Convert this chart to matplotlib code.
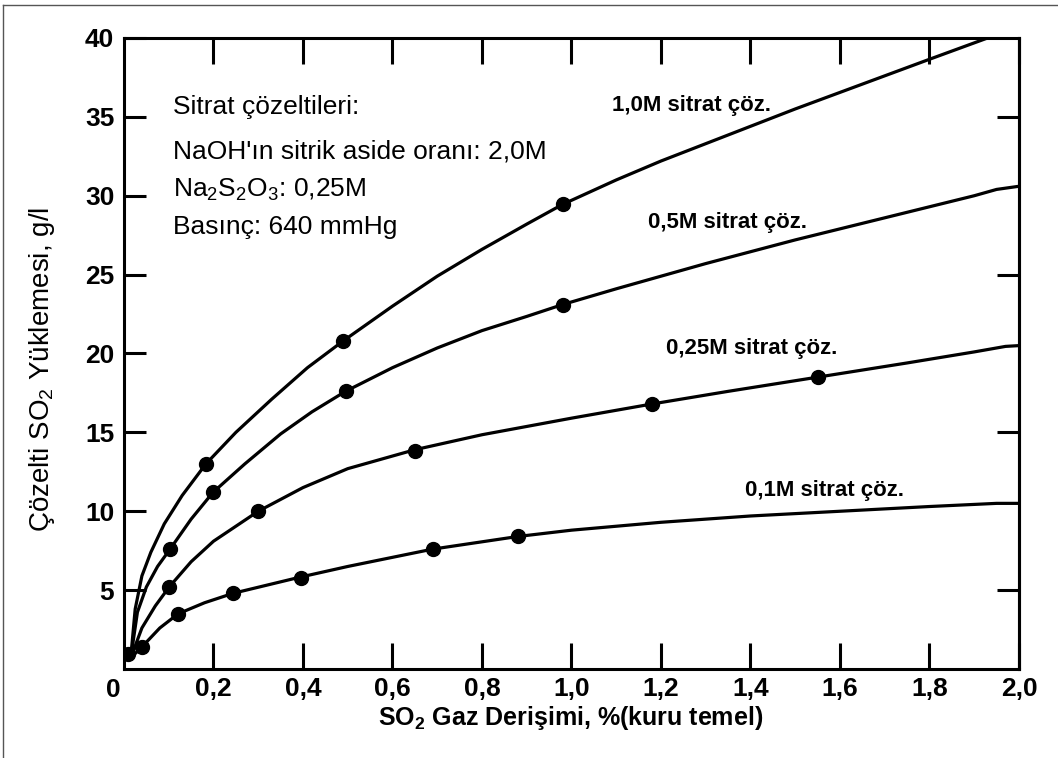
import matplotlib
matplotlib.use("Agg")
import matplotlib.pyplot as plt
from matplotlib.lines import Line2D

plt.rcParams['font.family'] = ['Liberation Sans', 'DejaVu Sans']
plt.rcParams['mathtext.default'] = 'regular'

# smooth curves
x_10 = [0.015, 0.025, 0.04, 0.06, 0.09, 0.13, 0.183, 0.25, 0.33, 0.41, 0.49, 0.6, 0.7, 0.8, 0.9, 0.98,
        1.1, 1.2, 1.3, 1.4, 1.5, 1.6, 1.7, 1.8, 1.93]
y_10 = [0.7, 3.8, 5.9, 7.4, 9.2, 11.0, 13.0, 15.0, 17.1, 19.1, 20.8, 23.0, 24.9, 26.6, 28.2, 29.45,
        31.0, 32.2, 33.3, 34.4, 35.5, 36.55, 37.6, 38.65, 40.0]

x_05 = [0.015, 0.03, 0.05, 0.075, 0.103, 0.15, 0.199, 0.27, 0.35, 0.42, 0.495, 0.6, 0.7, 0.8, 0.9, 0.98,
        1.1, 1.2, 1.3, 1.4, 1.5, 1.6, 1.7, 1.8, 1.9, 1.95, 2.0]
y_05 = [0.7, 3.6, 5.2, 6.5, 7.6, 9.5, 11.2, 13.0, 14.9, 16.3, 17.6, 19.1, 20.35, 21.45, 22.35, 23.1,
        24.1, 24.9, 25.7, 26.45, 27.2, 27.9, 28.6, 29.3, 30.0, 30.4, 30.6]

x_025 = [0.015, 0.04, 0.07, 0.101, 0.15, 0.2, 0.3, 0.4, 0.5, 0.65, 0.8, 1.0, 1.18, 1.35, 1.55, 1.75, 1.9, 1.97, 2.0]
y_025 = [0.7, 2.6, 4.0, 5.2, 6.8, 8.1, 10.0, 11.5, 12.7, 13.9, 14.85, 15.9, 16.8, 17.6, 18.5, 19.4, 20.1, 20.45, 20.5]

x_01 = [0.015, 0.04, 0.08, 0.121, 0.18, 0.244, 0.39, 0.5, 0.69, 0.88, 1.0, 1.2, 1.4, 1.6, 1.8, 1.95, 2.0]
y_01 = [0.7, 1.4, 2.6, 3.5, 4.2, 4.8, 5.8, 6.5, 7.6, 8.4, 8.8, 9.3, 9.7, 10.0, 10.3, 10.5, 10.5]

# measured points
px_10 = [0.01, 0.183, 0.49, 0.98]
py_10 = [0.95, 13.0, 20.8, 29.5]
px_05 = [0.103, 0.199, 0.495, 0.98]
py_05 = [7.6, 11.2, 17.6, 23.1]
px_025 = [0.101, 0.30, 0.65, 1.18, 1.55]
py_025 = [5.2, 10.0, 13.8, 16.8, 18.5]
px_01 = [0.04, 0.121, 0.244, 0.395, 0.69, 0.88]
py_01 = [1.4, 3.5, 4.8, 5.8, 7.6, 8.4]

curve_labels = ["1,0M sitrat çöz.", "0,5M sitrat çöz.", "0,25M sitrat çöz.", "0,1M sitrat çöz."]
label_pos = [(1.09, 35.7), (1.17, 28.3), (1.211, 20.3), (1.388, 11.3)]

info_lines = ["Sitrat çözeltileri:",
              "NaOH'ın sitrik aside oranı: 2,0M",
              "Na$_2$S$_2$O$_3$: 0,25M",
              "Basınç: 640 mmHg"]
info_y = [35.6, 32.8, 30.4, 28.0]

xticks = [0.2, 0.4, 0.6, 0.8, 1.0, 1.2, 1.4, 1.6, 1.8, 2.0]
xticklabels = ["0,2", "0,4", "0,6", "0,8", "1,0", "1,2", "1,4", "1,6", "1,8", "2,0"]
yticks = [5, 10, 15, 20, 25, 30, 35, 40]
right_ticks = [5, 15, 25, 35]

fig = plt.figure(figsize=(10.58, 7.58), dpi=100)
ax = fig.add_axes([0.1172, 0.1174, 0.8459, 0.8325])

for xs, ys in [(x_10, y_10), (x_05, y_05), (x_025, y_025), (x_01, y_01)]:
    ax.plot(xs, ys, color='black', lw=2.3, solid_capstyle='round', solid_joinstyle='round')
for xs, ys in [(px_10, py_10), (px_05, py_05), (px_025, py_025), (px_01, py_01)]:
    ax.plot(xs, ys, 'o', color='black', ms=10)

for txt, (lx, ly) in zip(curve_labels, label_pos):
    ax.text(lx, ly, txt, fontsize=16, fontweight='bold', va='center', ha='left')

for txt, ly in zip(info_lines, info_y):
    ax.text(0.11, ly, txt, fontsize=19, va='center', ha='left')

ax.set_xlim(0, 2.0)
ax.set_ylim(0, 40)
ax.set_xticks(xticks)
ax.set_xticklabels(xticklabels)
ax.set_yticks(yticks)
ax.tick_params(axis='x', direction='in', length=19, width=2.2, top=True,
               labelsize=19, pad=6)
ax.tick_params(axis='y', direction='in', length=16, width=2.2, labelsize=19, pad=7)
for lab in ax.get_xticklabels() + ax.get_yticklabels():
    lab.set_fontweight('bold')
for sp in ax.spines.values():
    sp.set_linewidth(2.2)

sec = ax.secondary_yaxis('right')
sec.set_yticks(right_ticks)
sec.tick_params(direction='in', length=16, width=2.2, labelright=False)
sec.spines['right'].set_linewidth(2.2)

ax.annotate("0", xy=(0, 0), xytext=(-8, -15), textcoords='offset points',
            fontsize=19, fontweight='bold', ha='center', va='center')

fig.text(571 / 1058, 1 - 718 / 758, "SO$_2$ Gaz Derişimi, %(kuru temel)",
         fontsize=18, fontweight='bold', ha='center', va='center')
fig.text(42 / 1058, 1 - 369 / 758, "Çözelti SO$_2$ Yüklemesi, g/l",
         fontsize=20, rotation=90, ha='center', va='center')

# thin frame around the figure
fig.add_artist(Line2D([3 / 1058, 1.0], [1 - 5 / 758, 1 - 5 / 758], color='#555555', lw=1.0))
fig.add_artist(Line2D([3 / 1058, 3 / 1058], [0.0, 1 - 5 / 758], color='#555555', lw=1.0))

fig.savefig("out.png", dpi=100)
